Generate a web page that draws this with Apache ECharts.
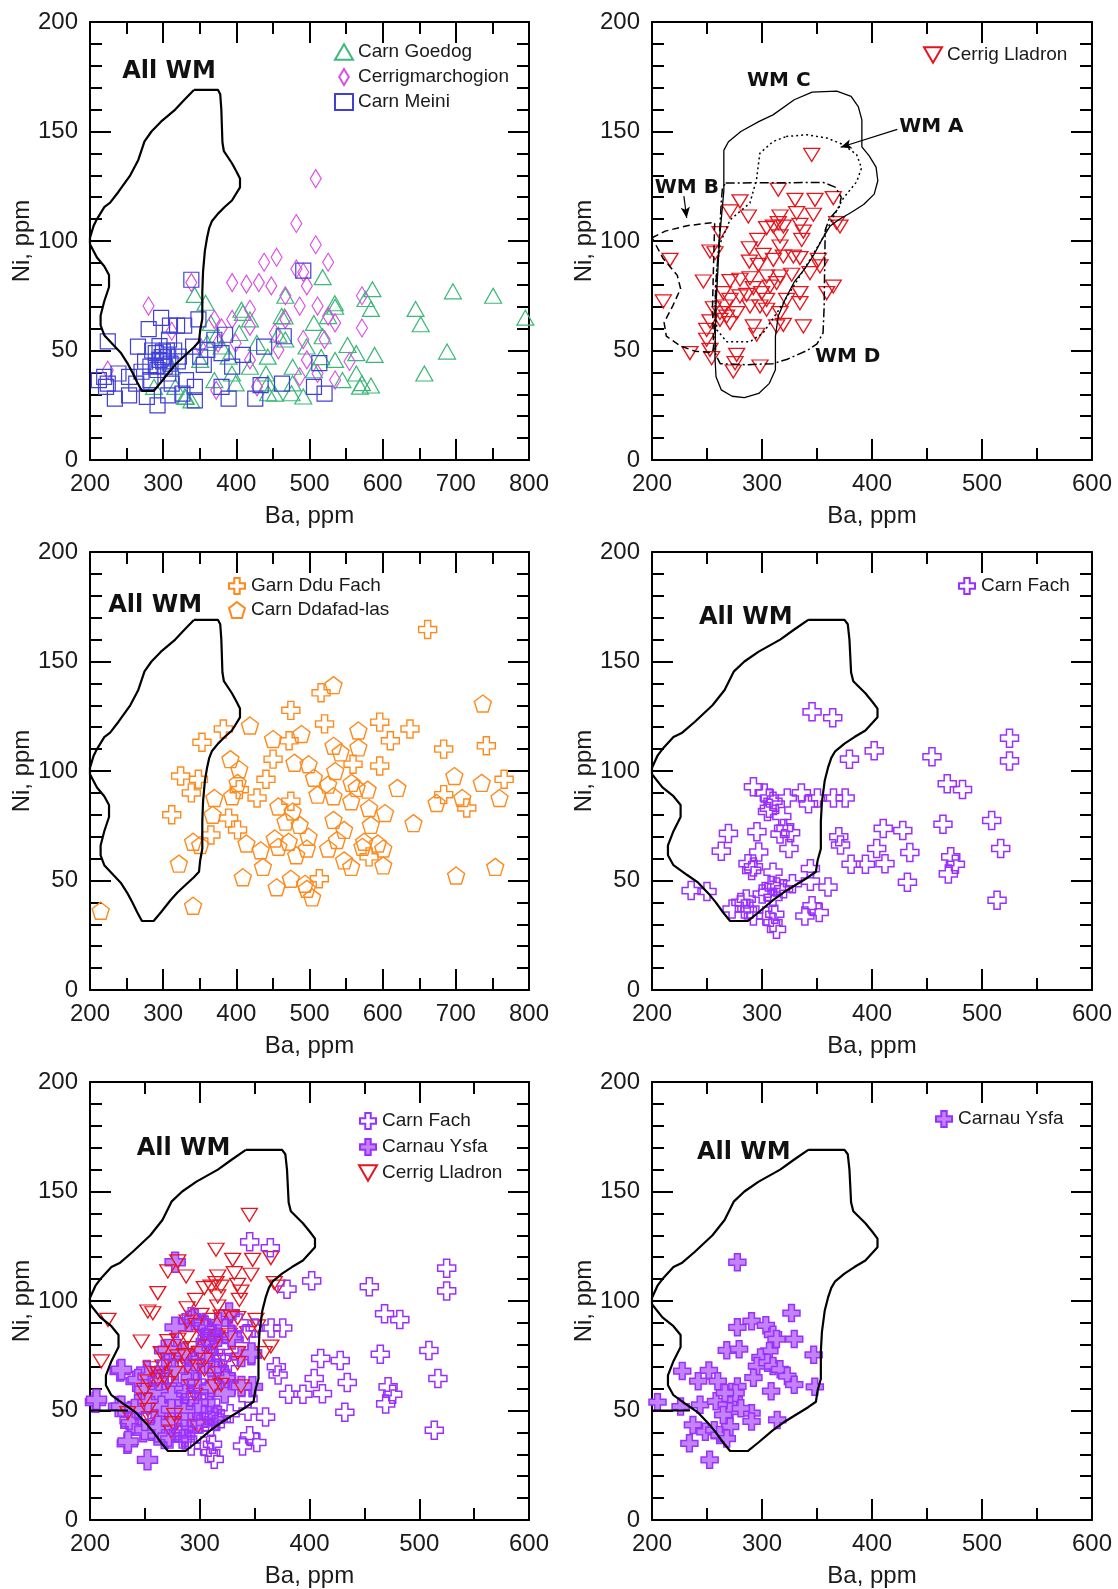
<!DOCTYPE html>
<html><head><meta charset="utf-8">
<script src="https://cdn.jsdelivr.net/npm/echarts@6/dist/echarts.min.js"></script>
<style>html,body{margin:0;padding:0;background:#fff}#c{width:1118px;height:1589px}</style>
</head><body><div id="c"></div>
<script>
// ---------- DATA (Ba ppm, Ni ppm) ----------
const baTicksWide = [200, 300, 400, 500, 600, 700, 800];
const baTicksNarrow = [200, 300, 400, 500, 600];
const niTicks = [0, 50, 100, 150, 200];

const carnGoedog = [[795,65],[751,75],[696,77],[645,69],[652,62],[688,49.5],[657,39.5],[589,48],[586,78],[576.5,73.5],[584,69],[552,52.5],[564,48.8],[564,39.5],[584,34],[569,33.5],[535,70],[525.5,65.7],[518,56.5],[516,47],[518,83.5],[506,62.6],[491.5,29],[467,75],[462,65.7],[457.5,57.2],[467,55],[443,47.2],[440.5,39.5],[452.6,30.3],[418.6,64.2],[409,67.2],[404,58],[428,53.4],[380,51.8],[372.5,56.5],[365,62.6],[358,71.8],[343,75.4],[331,28.8],[338.5,27.2],[360,53.4],[399,35],[418.6,42.6],[477,42.6],[506,41],[535,45.7],[545,36.5],[370,36.5],[394,39.5],[443,35],[477,35],[496,51.8],[316.6,33.4],[329.6,29],[287.5,33.4],[311.7,42.6],[389.5,47.2],[350.6,45.7],[407,68.6],[466,65.5],[534.6,71.6],[443.4,30.5],[475.4,30.5],[571.7,35.1]];

const cerrigmarchogion = [[508.5,128.5],[482,108],[508.5,98.3],[525.5,90.3],[455,92.6],[438,90.3],[394.3,81],[413.8,80.3],[430.8,81],[447.8,79.5],[467,75],[482,87.2],[491.5,85.7],[496.4,79.5],[486.6,70.3],[511,70.3],[525.5,65.7],[571.7,75],[571.7,60.3],[535,62.6],[554.7,45],[535,36.5],[511,39.5],[496.4,45.7],[491.5,55],[467,64.2],[452.6,58],[418.6,68.8],[418.6,61],[394.3,64.2],[375,53.4],[370,64.2],[380,60.3],[280,70.3],[338.5,81],[311.7,58.8],[224.3,41],[372.5,31.8],[428.3,33.4],[457.5,50.3],[399,53.4],[418.6,45.7],[486.6,38],[520.6,55],[350.6,51.8]];

const carnMeini = [[338.5,82.3],[491.5,86.5],[348.2,64.2],[297.2,64.9],[280.2,59.8],[309.3,61.4],[319,61.4],[328.7,61.4],[224.3,54.2],[265.6,51.8],[275.3,44.9],[289.9,48.8],[299.6,49.5],[294.7,45.7],[306.9,47.2],[321.5,47.2],[340.9,51.8],[350.6,47.2],[360.3,50.3],[370,54.9],[384.6,57.2],[379.8,48.8],[394.3,42.6],[408.9,48],[438.1,51.8],[464.8,56.5],[513.4,44.2],[462.4,34.9],[433.2,34.2],[425.9,28],[389.5,28],[379.8,33.4],[343.3,27.2],[326.3,30.3],[306.9,29.5],[292.3,24.9],[277.7,28.8],[253.4,29.5],[234,28],[224.3,34.9],[219.4,38],[238.9,39.5],[253.4,38],[263.2,34.9],[282.6,36.5],[292.3,41.1],[282.6,42.6],[306.9,39.5],[311.7,34.9],[331.2,36.5],[343.3,33.4],[520.6,30.3],[506.1,33.4],[355.5,43.4],[302,42.6],[270.4,40.3],[212.1,36.5],[221.9,33.4],[300,45],[305,50],[298,47],[310,44],[295,52],[315,50],[290,43],[320,45],[285,50],[308,55]];

const cerrigLladron = [[345.2,139.3],[314.8,123.4],[280,118.1],[330,118.8],[348.2,118.8],[364.8,119.6],[287.6,111.2],[270.9,113.5],[316.4,111.2],[314.8,108.2],[319.4,106.6],[310.3,106.6],[304.2,105.9],[334.5,107.4],[346.7,112],[331.5,112.7],[337.6,104.3],[336.1,100.5],[316.4,102.1],[367.9,108.2],[370.9,106.6],[261.8,103.6],[296.1,100.5],[288.5,96.7],[252.7,95.2],[257.3,94.4],[301.2,93.7],[316.4,97.5],[319.4,92.9],[328.5,92.9],[334.5,92.2],[310.3,91.4],[216.4,91.4],[351.2,91.4],[352.7,88.4],[343.6,85.3],[288.5,90.6],[296.7,89.1],[246.7,81.5],[270.9,81.7],[280,82.3],[289.1,83],[304.2,83.8],[316.4,83.8],[327,84.6],[364.8,79.2],[358.8,76.2],[313.3,80.8],[307.3,79.2],[334.5,76.2],[334.5,71.6],[292.1,78.5],[299.7,76.2],[304.2,73.1],[264.9,76.2],[270.9,73.1],[280,74.7],[286.1,75.4],[210.3,72.4],[255.8,69.3],[266.4,70.1],[261.8,67.1],[267.9,65.5],[277,67.1],[289.1,70.1],[298.2,70.1],[304.2,68.6],[316.4,67.1],[322.4,73.1],[292.1,61],[313.3,61],[319.4,61.7],[337.6,61],[270.9,62.5],[261.8,64],[252.7,63.3],[249.7,59.4],[295.2,57.2],[249.7,54.9],[234.5,48.8],[252.7,50.3],[254.2,46.5],[277,48],[275.5,44.2],[273.9,40.4],[298.2,42.7]];

const garnDduFach = [[661.5,164.6],[515.8,135.7],[474.5,127.7],[520.6,121.5],[596,122.3],[637.3,119.2],[610.5,113.8],[683.4,110],[741.7,111.5],[766,96.2],[596,102.3],[472.1,113.8],[450.2,105.4],[382.2,119.2],[353,113.1],[323.9,97.7],[348.2,96.2],[338.5,90],[311.7,80],[365.2,70.8],[389.5,78.5],[401.7,73.1],[440.5,96.2],[428.3,87.7],[715,83.1],[683.4,89.2],[581.4,60.8],[513.4,50.8],[559.5,103.1],[474.5,86.2],[404,91.5]];

const carnDdafadLas = [[532.8,139.2],[736.9,130.8],[418.6,120.8],[450.2,114.6],[489.1,116.9],[566.8,118.5],[566.8,110.8],[532.8,111.5],[542.5,108.5],[391.9,105.4],[404,100.8],[479.4,103.8],[498.8,103.1],[506.1,96.9],[535.2,100],[525.5,93.8],[557.5,94.6],[579.4,91.5],[698,97.7],[735.4,94.6],[759.7,87.7],[708.8,87.7],[673.7,85.4],[620.2,92.3],[642.1,76.2],[603.2,80.8],[581.4,83.1],[583.8,75.4],[532.8,77.7],[510.9,89.2],[477,81.5],[457.5,83.8],[467.2,76.9],[486.6,75.4],[498.8,70],[471.6,67.7],[452.6,69.2],[457.5,65.4],[496.4,64.6],[481.8,61.5],[525.5,64.6],[537.6,68.5],[547.3,73.1],[574.7,67.7],[572.3,65.4],[593.5,66.9],[600.8,64.6],[600.8,56.9],[547.3,59.2],[557,56.2],[433.2,63.8],[413.8,66.9],[436.4,56.2],[408.9,51.5],[455.1,46.9],[474.5,50.8],[493.9,48.5],[496.4,46.2],[503.6,42.3],[700.4,52.3],[753.9,56.2],[321.5,57.7],[340.9,67.7],[350.6,66.2],[367.6,80],[340.9,38.5],[214.6,36.2],[401.7,94.6],[394.3,88.5],[370,87.7],[532.8,88.5],[564.4,92.3],[557,86.2]];

const carnFach = [[345.5,127],[364.3,124.3],[525,115],[525,104.6],[402,109.2],[379.5,105.4],[454.5,106.5],[468.4,94.2],[482.3,91.5],[292.2,92.8],[302,90],[306.7,87.7],[310,86.2],[306.7,83],[305,81.5],[323,87.7],[335.8,90],[342.3,85],[350.4,87.7],[365,87.7],[375.6,87.7],[318,79.2],[319.6,73.8],[326,71.8],[316.4,71.2],[324.5,64.6],[295.4,72.3],[269.5,71.5],[263,63.4],[297,63],[287.3,57.7],[292.2,56.2],[290.6,54.6],[310,53.8],[369.8,70],[371.4,66.2],[404.3,64.6],[410.2,73.8],[428,72.8],[434.4,62.8],[411.8,57.7],[394,57.4],[381,57.4],[464.5,75.7],[508.8,77.4],[517,64.6],[471.6,60.8],[475.8,57.4],[469.4,53],[513.7,41],[432.2,49.2],[344,55.4],[344,49.7],[360,47],[327.7,48.5],[319.6,46.2],[313.2,47],[308.3,47.7],[305.2,44.6],[300.2,43.8],[310,42.3],[235.6,45.4],[250,45],[272.8,37],[280.8,40],[285.7,41.5],[284,37],[292.2,33.8],[303.5,33.8],[311.6,34.6],[310,30.8],[313.2,27.7],[339,33.8],[345.5,38.5],[352,35.4],[289,37]];

const carnauYsfa = [[277.6,117.7],[326.8,94.5],[290.5,90.8],[303.5,88.9],[277.6,88],[310,84.6],[313.2,82.6],[329.3,82.6],[268,77.5],[279.2,78],[306.7,77.2],[298.6,74.2],[347,75.4],[295.4,70.3],[305,71.8],[310,70.3],[316.4,68.8],[323,65.7],[329.3,61.8],[292.2,65],[308.3,58.8],[348,60.8],[227.5,68],[251.7,68.3],[242,63.4],[259.8,63.4],[205,53.8],[226,51.8],[243.7,52.6],[258.2,54.2],[268,52.6],[274.4,55],[277.6,61],[276,58],[271,49.5],[264.7,48],[290.5,48.8],[290.5,45],[271,42.6],[313.8,45.7],[237.2,43.4],[248.5,40.3],[256.6,41],[261.4,38.8],[268,37.2],[234,35],[252.4,27.5],[266.3,58],[280.8,51]];
// additional Carnau Ysfa samples shown only in the combined panel
const carnauYsfaExtra = [[295.5,91.5],[304.6,88.5],[316.7,90],[328.9,83.9],[310.7,80.9],[301.6,77.8],[286.4,76.3],[271.2,77.8],[268.2,68.7],[277.3,68.7],[295.5,68.7],[307.6,71.7],[316.7,68.7],[322.8,65.6],[338,74.7],[347.2,76.2],[228.7,68.7],[243.8,64.1],[252.9,65.6],[262.1,64.1],[249.9,59.5],[262.1,58],[274.2,56.5],[286.4,59.5],[298.5,59.5],[310.7,61],[322.8,58],[338,61],[205.9,55],[228.7,51.9],[240.8,50.4],[252.9,53.5],[265.1,51.9],[274.2,50.4],[286.4,50.4],[298.5,53.5],[310.7,50.4],[237.8,44.3],[249.9,41.3],[262.1,42.8],[274.2,44.3],[286.4,44.3],[298.5,44.3],[234.7,35.9],[271.2,38.2],[286.4,38.2]];

// outlines
const allWM = [[342,169],[375,169],[378,167],[379.5,160],[381,145],[383,141],[394,135.5],[400.5,131.5],[405,128.5],[405,124.5],[394,118.5],[384,115.5],[375,112.5],[366.5,109],[363,106],[360,101.5],[357,95.5],[354.5,86],[353.5,77],[353.5,64.5],[350.5,59],[349,54],[342,51.5],[329,47.5],[319.5,44.5],[310,41],[297,35.5],[287,31.5],[271,31.5],[264.5,35.5],[258,40],[251.5,44],[242,49],[232,52.5],[219.5,57],[214.5,61.5],[214.5,66],[219.5,72.5],[226,79],[226,84.5],[219.5,88.5],[209.5,92.5],[200,98.5],[200,101.5],[205,107],[209.5,110],[219.5,115.5],[227.5,117.5],[239,122.5],[255,130],[266,137],[274.5,145.5],[284,150],[297,154.5],[316.5,160],[329,164.5],[342,169]];
const allWMTail = [[200,50],[234.5,50]];
const wmA = [[322,147.7],[340.5,148.5],[359,147],[374,144],[386,139.5],[390.5,133.3],[386,127],[374,119.6],[365,111.2],[356,102],[343.5,91.4],[328.5,79.2],[313.3,67],[301,58],[289,54],[268,54],[259,59.4],[257.3,71.6],[258.8,86.8],[262,99],[271,109.7],[289,117.3],[295,128],[298,140],[310,145.4],[322,147.7]];
const wmB = [[200,101.5],[212,104.5],[232,107],[257,108.5],[256,90],[255,70],[256,52],[255,49],[239,49.7],[226,52],[213,56.6],[211,62.8],[219,70.5],[226,78.2],[223,84.3],[210,92.1],[200,101.5]];
const wmC = [[265.3,141.4],[269.5,145.3],[280.8,150],[297,154.5],[310,157.6],[329.3,164.5],[345.5,168],[368,168.4],[381,166],[387.5,161.4],[390.8,155.3],[390.8,143],[397.3,139],[403.7,133.7],[405.3,127.5],[402,121.4],[392.4,116.7],[381,113],[370,109.8],[361.7,106.7],[355.2,101.3],[347,93.6],[339,87.4],[329.3,81.3],[321.3,73.6],[314.8,65.8],[312.2,56.6],[312.2,41.2],[306.7,35],[297,30.4],[284,28.5],[272.8,29.1],[263,32],[258.2,38],[257.2,47.3],[258.2,70.5],[261.4,101.3],[265.3,122.9],[265.3,141.4]];
const wmD = [[267,126.5],[356,126.7],[367,124.5],[372,120],[370,115],[361,110],[357.5,105],[357,90],[356.5,70],[355.5,58],[350,53],[341,50],[323,46],[310,44],[285,43.5],[262,44],[258,48],[257,60],[258,80],[261,100],[263,118],[264,124],[267,126.5]];
const arrowA = [[423,151],[371.5,142.8]];
const arrowB = [[229,120.5],[231.5,110.5]];

// ---------- STYLE ----------
const FONT = '"Liberation Sans", Arial, sans-serif';
const SYM = {
  triUp: 'path://M50,0 L100,86 L0,86 Z',
  triDown: 'path://M0,0 L100,0 L50,86 Z',
  diamond: 'path://M30,0 L60,50 L30,100 L0,50 Z',
  cross: 'path://M33,0 H67 V33 H100 V67 H67 V100 H33 V67 H0 V33 H33 Z',
  pent: 'path://M50,0 L100,38 L81,100 L19,100 L0,38 Z'
};
const C = {green:'#3cb878', magenta:'#dc4fe6', blue:'#4040d8', red:'#e8141c', orange:'#ff8a1c', purple:'#9a30ff', purpleFill:'#c382f8'};

const grids = [
  {left:90, top:22, width:439, height:438},
  {left:652, top:22, width:440, height:438},
  {left:90, top:552, width:439, height:438},
  {left:652, top:552, width:440, height:438},
  {left:90, top:1082, width:439, height:438},
  {left:652, top:1082, width:440, height:438}
];
const xMax = [800, 600, 800, 600, 600, 600];

const xAxes = [], yAxes = [];
grids.forEach((g, i) => {
  const tickStyle = {color:'#000', width:2};
  const common = {
    type:'value', gridIndex:i, splitLine:{show:false},
    axisLine:{show:true, onZero:false, lineStyle:{color:'#000', width:2}},
    axisTick:{show:true, inside:true, length:21, lineStyle:tickStyle},
    minorTick:{show:true, length:12, lineStyle:tickStyle},
    minorSplitLine:{show:false}
  };
  const xt = xMax[i] === 800 ? baTicksWide : baTicksNarrow;
  xAxes.push(Object.assign({}, common, {
    position:'bottom', min:xt[0], max:xt[xt.length-1], interval:100,
    minorTick:Object.assign({}, common.minorTick, {splitNumber:2}),
    axisLabel:{show:true, fontSize:24, fontFamily:FONT, color:'#1a1a1a', margin:12, showMinLabel:true, showMaxLabel:true},
    name:'Ba, ppm', nameLocation:'middle', nameGap:44,
    nameTextStyle:{fontSize:24, fontFamily:FONT, color:'#1a1a1a'}
  }));
  xAxes.push(Object.assign({}, common, {
    position:'top', min:xt[0], max:xt[xt.length-1], interval:100,
    minorTick:Object.assign({}, common.minorTick, {splitNumber:2}),
    axisLabel:{show:false}
  }));
  yAxes.push(Object.assign({}, common, {
    position:'left', min:niTicks[0], max:niTicks[niTicks.length-1], interval:50,
    minorTick:Object.assign({}, common.minorTick, {splitNumber:5}),
    axisLabel:{show:true, fontSize:24, fontFamily:FONT, color:'#1a1a1a', margin:12, showMinLabel:true, showMaxLabel:true},
    name:'Ni, ppm', nameLocation:'middle', nameGap:56, nameRotate:90,
    nameTextStyle:{fontSize:24, fontFamily:FONT, color:'#1a1a1a'}
  }));
  yAxes.push(Object.assign({}, common, {
    position:'right', min:niTicks[0], max:niTicks[niTicks.length-1], interval:50,
    minorTick:Object.assign({}, common.minorTick, {splitNumber:5}),
    axisLabel:{show:false}
  }));
});

function sc(name, g, data, sym, size, stroke, fill, bw) {
  return {type:'scatter', name, xAxisIndex:2*g, yAxisIndex:2*g, data,
    symbol:sym, symbolSize:size,
    itemStyle:{color:fill, borderColor:stroke, borderWidth:bw, opacity:1},
    emphasis:{disabled:true}, silent:true, z:3};
}
function ln(g, data, type, width, extra) {
  return Object.assign({type:'line', xAxisIndex:2*g, yAxisIndex:2*g, data,
    showSymbol:false, symbol:'none', smooth:false, silent:true, z:5,
    lineStyle:{color:'#000', width, type}, emphasis:{disabled:true}}, extra || {});
}
const none = 'rgba(255,255,255,0)';

const series = [
  // panel 1
  sc('Carn Goedog', 0, carnGoedog, SYM.triUp, [17,15], C.green, none, 1.2),
  sc('Cerrigmarchogion', 0, cerrigmarchogion, SYM.diamond, [11,18], C.magenta, none, 1.2),
  sc('Carn Meini', 0, carnMeini, 'rect', 15, C.blue, none, 1.2),
  ln(0, allWM, 'solid', 2.2),
  // panel 2
  sc('Cerrig Lladron', 1, cerrigLladron, SYM.triDown, [16,13], C.red, none, 1.3),
  ln(1, wmC, 'solid', 1.3),
  ln(1, wmA, [2,3], 1.5, {markLine:{silent:true, animation:false, symbol:['none','arrow'], symbolSize:[7,11],
    label:{show:false}, lineStyle:{type:'solid', color:'#000', width:1.2},
    data:[[{coord:arrowA[0]},{coord:arrowA[1]}],[{coord:arrowB[0]},{coord:arrowB[1]}]]}}),
  ln(1, wmB, [7,4], 1.5),
  ln(1, wmD, [9,3,2,3], 1.5),
  // panel 3
  sc('Garn Ddu Fach', 2, garnDduFach, SYM.cross, 18, C.orange, none, 1.4),
  sc('Carn Ddafad-las', 2, carnDdafadLas, SYM.pent, 17, C.orange, none, 1.4),
  ln(2, allWM, 'solid', 2.2),
  // panel 4
  sc('Carn Fach', 3, carnFach, SYM.cross, 18, C.purple, none, 1.5),
  ln(3, allWM, 'solid', 2.2),
  // panel 5
  sc('Carnau Ysfa', 4, carnauYsfa.concat(carnauYsfaExtra), SYM.cross, 20, C.purple, C.purpleFill, 1.5),
  sc('Cerrig Lladron', 4, cerrigLladron, SYM.triDown, [16,13], C.red, none, 1.3),
  sc('Carn Fach', 4, carnFach, SYM.cross, 18, C.purple, none, 1.5),
  ln(4, allWM, 'solid', 2.2),
  ln(4, allWMTail, 'solid', 2.2),
  // panel 6
  sc('Carnau Ysfa', 5, carnauYsfa, SYM.cross, 17, C.purple, C.purpleFill, 1.5),
  ln(5, allWM, 'solid', 2.2),
  ln(5, allWMTail, 'solid', 2.2)
];

function lg(names, left, top, gap) {
  return {data:names, orient:'vertical', left, top, padding:0, itemGap:gap,
    itemWidth:18, itemHeight:16, selectedMode:false,
    textStyle:{fontSize:19, fontFamily:FONT, color:'#1a1a1a', lineHeight:20}};
}

const option = {
  animation:false,
  backgroundColor:'#fff',
  grid:grids.map(g => Object.assign({containLabel:false}, g)),
  xAxis:xAxes, yAxis:yAxes,
  legend:[
    lg(['Carn Goedog','Cerrigmarchogion','Carn Meini'], 334, 42, 5),
    lg(['Cerrig Lladron'], 923, 45, 5),
    lg(['Garn Ddu Fach','Carn Ddafad-las'], 228, 576, 4),
    lg(['Carn Fach'], 958, 576, 5),
    lg(['Carn Fach','Carnau Ysfa','Cerrig Lladron'], 358, 1111, 6),
    lg(['Carnau Ysfa'], 935, 1109, 5)
  ],
  series
};

const chart = echarts.init(document.getElementById('c'), null, {renderer:'canvas'});
chart.setOption(option);

const annotations = [
  {g:0, at:[244,177.3], text:'All WM', size:24},
  {g:2, at:[225,175.5], text:'All WM', size:24},
  {g:3, at:[242.7,170], text:'All WM', size:24},
  {g:4, at:[242.5,169.4], text:'All WM', size:24},
  {g:5, at:[240.9,167.5], text:'All WM', size:24},
  {g:1, at:[286.4,173], text:'WM C', size:20},
  {g:1, at:[424.7,152.2], text:'WM A', size:20},
  {g:1, at:[202.5,124.4], text:'WM B', size:20},
  {g:1, at:[348.1,47.3], text:'WM D', size:20}
];
chart.setOption({graphic: annotations.map(a => {
  const p = chart.convertToPixel({xAxisIndex:2*a.g, yAxisIndex:2*a.g}, a.at);
  return {type:'text', x:p[0], y:p[1], z:10, silent:true,
    style:{text:a.text, font:'bold ' + a.size + 'px "DejaVu Sans", sans-serif', fill:'#111', align:'left', verticalAlign:'middle'}};
})});
</script>
</body></html>
